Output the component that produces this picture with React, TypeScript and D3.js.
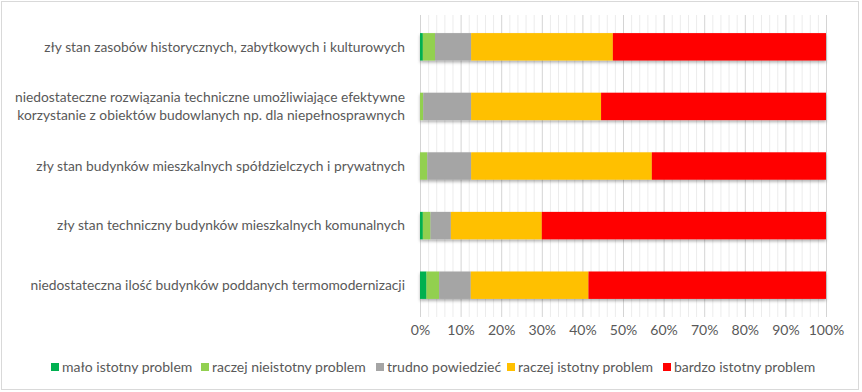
import React, { useEffect, useRef } from 'react';
import * as d3 from 'd3';

const categories = [
  ['zły stan zasobów historycznych, zabytkowych i kulturowych'],
  ['niedostateczne rozwiązania techniczne umożliwiające efektywne', 'korzystanie z obiektów budowlanych np. dla niepełnosprawnych'],
  ['zły stan budynków mieszkalnych spółdzielczych i prywatnych'],
  ['zły stan techniczny budynków mieszkalnych komunalnych'],
  ['niedostateczna ilość budynków poddanych termomodernizacji'],
];

const seriesNames = [
  'mało istotny problem',
  'raczej nieistotny problem',
  'trudno powiedzieć',
  'raczej istotny problem',
  'bardzo istotny problem',
];

const maloIstotny = [0.7, 0, 0, 0.7, 1.6];
const raczejNieistotny = [3.0, 0.8, 1.8, 1.9, 3.1];
const trudnoPowiedziec = [8.9, 11.8, 10.8, 5.0, 7.8];
const raczejIstotny = [34.9, 32.0, 44.5, 22.4, 29.0];
const bardzoIstotny = [52.5, 55.4, 42.9, 70.0, 58.5];

const colors = ['#00B050', '#92D050', '#A5A5A5', '#FFC000', '#FF0000'];
const tickValues = d3.range(0, 101, 10);

const App = () => {
  const ref = useRef<SVGSVGElement>(null);

  useEffect(() => {
    const svg = d3.select(ref.current);
    svg.selectAll('*').remove();
    const width = 862;
    const height = 392;
    const font = 'Lato, "Open Sans", sans-serif';
    const textColor = '#595959';

    const defs = svg.append('defs');
    const f = defs.append('filter').attr('id', 'shadow').attr('x', '-5%').attr('y', '-20%').attr('width', '110%').attr('height', '160%');
    f.append('feDropShadow').attr('dx', 0).attr('dy', 2).attr('stdDeviation', 1.5).attr('flood-color', '#000').attr('flood-opacity', 0.3);

    svg.append('rect')
      .attr('x', 1.5).attr('y', 1.5)
      .attr('width', width - 5).attr('height', height - 4)
      .attr('fill', '#fff').attr('stroke', '#d9d9d9');

    const rows = categories.map((c, i) => ({
      idx: i,
      mi: maloIstotny[i],
      rn: raczejNieistotny[i],
      tp: trudnoPowiedziec[i],
      ri: raczejIstotny[i],
      bi: bardzoIstotny[i],
    }));
    const keys = ['mi', 'rn', 'tp', 'ri', 'bi'];
    const stack = d3.stack<any>().keys(keys);
    const series = stack(rows);

    const x = d3.scaleLinear().domain([0, 100]).range([420, 826]);
    const y = d3.scaleBand<number>()
      .domain(rows.map(r => r.idx))
      .range([17, 315])
      .paddingInner(0.54)
      .paddingOuter(0.27);

    // gridlines
    const g = svg.append('g');
    g.selectAll('line.minor')
      .data(d3.range(0, 101, 2).filter(v => v % 10 !== 0))
      .join('line')
      .attr('x1', d => x(d) + 0.5).attr('x2', d => x(d) + 0.5)
      .attr('y1', 15).attr('y2', 317)
      .attr('stroke', '#ececec');
    g.selectAll('line.major')
      .data(tickValues)
      .join('line')
      .attr('x1', d => x(d) + 0.5).attr('x2', d => x(d) + 0.5)
      .attr('y1', 15).attr('y2', 317)
      .attr('stroke', '#d4d4d4');

    // bars
    svg.append('g')
      .attr('filter', 'url(#shadow)')
      .selectAll('g')
      .data(series)
      .join('g')
      .attr('fill', (d, i) => colors[i])
      .selectAll('rect')
      .data(d => d)
      .join('rect')
      .attr('x', d => x(d[0]))
      .attr('y', d => y(d.data.idx)!)
      .attr('width', d => x(d[1]) - x(d[0]))
      .attr('height', y.bandwidth());

    // category labels
    const labels = svg.append('g')
      .attr('font-family', font).attr('font-size', 13.8).attr('fill', textColor)
      .attr('text-anchor', 'end');
    categories.forEach((lines, i) => {
      const cy = y(i)! + y.bandwidth() / 2;
      lines.forEach((line, j) => {
        labels.append('text')
          .attr('x', 405)
          .attr('y', cy + (j - (lines.length - 1) / 2) * 18)
          .attr('dy', '0.35em')
          .text(line);
      });
    });

    // x axis labels
    const axis = svg.append('g')
      .attr('transform', 'translate(0,330)')
      .call(d3.axisBottom(x).tickValues(tickValues).tickFormat(d => `${d}%`).tickSize(0).tickPadding(0));
    axis.select('.domain').remove();
    axis.selectAll('text')
      .attr('font-family', font).attr('font-size', 14).attr('fill', textColor)
      .attr('dy', '0.35em');

    // legend
    const legendX = [51, 201, 376, 507, 663];
    const leg = svg.append('g').attr('font-family', font).attr('font-size', 14).attr('fill', textColor);
    seriesNames.forEach((name, i) => {
      const item = leg.append('g').attr('transform', `translate(${legendX[i]},367)`);
      item.append('rect').attr('x', 0).attr('y', -4).attr('width', 8).attr('height', 8).attr('fill', colors[i]);
      item.append('text').attr('x', 11).attr('dy', '0.35em').text(name);
    });
  }, []);

  return (
    <div style={{ position: 'absolute', left: 0, top: 0 }}>
      <svg ref={ref} width={862} height={392} style={{ display: 'block' }} />
    </div>
  );
};

export default App;
